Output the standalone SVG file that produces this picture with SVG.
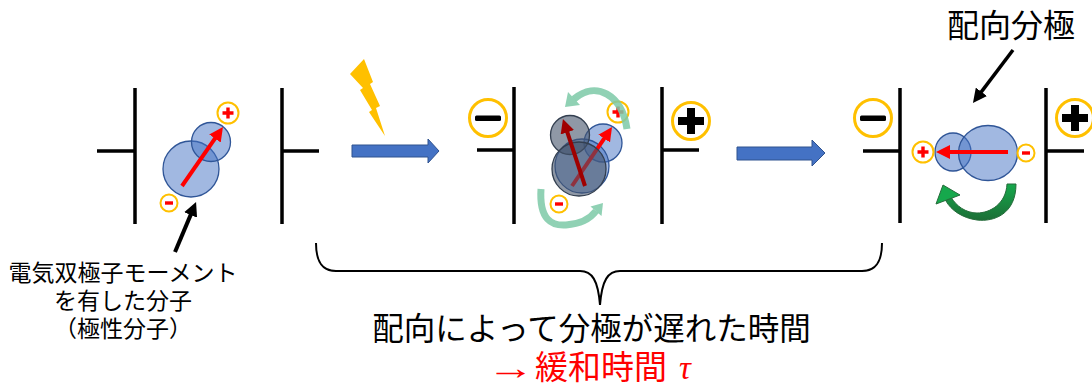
<svg xmlns="http://www.w3.org/2000/svg" width="1092" height="385" viewBox="0 0 1092 385">
  <style>
    .plate { stroke: #000; stroke-width: 3.5; fill: none; }
    .mol { fill: #4472c4; fill-opacity: 0.5; stroke: #2f5597; stroke-width: 1.3; }
    .mol-dark { fill: #44546a; fill-opacity: 0.6; stroke: #333f50; stroke-width: 1.3; }
    .ring { fill: #fff; stroke: #ffc000; stroke-width: 2; }
    .ring-big { fill: #fff; stroke: #ffc000; stroke-width: 3; }
    .sign { fill: #f00; }
    .sign-big { fill: #000; }
    .dipole { stroke: #f00; stroke-width: 4; fill: none; marker-end: url(#head-red); }
    .dipole-dark { stroke: #a00000; stroke-width: 4; fill: none; marker-end: url(#head-darkred); }
    .pointer { stroke: #000; stroke-width: 4; fill: none; marker-end: url(#head-black); }
    .block { fill: #4472c4; stroke: #2f528f; stroke-width: 1; }
    .spin { stroke: #7cc9a7; stroke-opacity: 0.85; stroke-width: 7; fill: none; }
    .spin-head { fill: #7cc9a7; fill-opacity: 0.85; }
    .jp { font-family: "Liberation Serif", "Noto Sans CJK JP", serif; fill: #000; }
    .red { fill: #f00; }
  </style>
  <defs>
    <marker id="head-red" markerUnits="userSpaceOnUse" markerWidth="14" markerHeight="14" viewBox="0 0 14 14" refX="2" refY="7" orient="auto">
      <path d="M0,0 L14,7 L0,14 z" fill="#f00"/>
    </marker>
    <marker id="head-darkred" markerUnits="userSpaceOnUse" markerWidth="14" markerHeight="14" viewBox="0 0 14 14" refX="2" refY="7" orient="auto">
      <path d="M0,0 L14,7 L0,14 z" fill="#a00000"/>
    </marker>
    <marker id="head-black" markerUnits="userSpaceOnUse" markerWidth="14" markerHeight="14" viewBox="0 0 14 14" refX="2" refY="7" orient="auto">
      <path d="M0,0 L14,7 L0,14 z" fill="#000"/>
    </marker>
    <linearGradient id="green-turn" x1="0" y1="0" x2="0" y2="1">
      <stop offset="0" stop-color="#16a84c"/>
      <stop offset="1" stop-color="#1c6e36"/>
    </linearGradient>
  </defs>

  <!-- Cell 1: no field, randomly oriented polar molecule -->
  <g id="cell-initial">
    <path class="plate" d="M135 88 V224 M97 151 H135"/>
    <path class="plate" d="M282 88 V224 M282 151 H319"/>
    <circle class="mol" cx="191" cy="169" r="28"/>
    <circle class="mol" cx="211" cy="142" r="19.5"/>
    <path class="dipole" d="M182 186 L216.1 136.9"/>
    <circle class="ring" cx="228" cy="113" r="10.5"/>
    <path class="sign" d="M226.3 107.5 h3.4 v3.8 h3.8 v3.4 h-3.8 v3.8 h-3.4 v-3.8 h-3.8 v-3.4 h3.8 z"/>
    <circle class="ring" cx="169" cy="203" r="8.5"/>
    <rect class="sign" x="165" y="201.3" width="8" height="3.4"/>
  </g>

  <!-- Field switched on -->
  <g id="field-pulse">
    <polygon points="350,74 364,59 373,82 370,84 380,106 376,108 385,136 369,112 372,110 360,90 363,88" fill="#ffc000"/>
  </g>

  <!-- Cell 2: molecule turning after the field is applied -->
  <g id="cell-rotating">
    <path class="plate" d="M514 87 V224 M477 150 H514"/>
    <path class="plate" d="M662 87 V224 M662 150 H699"/>
    <circle class="ring-big" cx="488" cy="118" r="18.5"/>
    <rect class="sign-big" x="475" y="115.5" width="26" height="5.5" rx="1.5"/>
    <circle class="ring-big" cx="691" cy="121" r="18.5"/>
    <path class="sign-big" d="M687 108 h8 v9 h9 v8 h-9 v9 h-8 v-9 h-9 v-8 h9 z"/>
    <circle class="mol" cx="603" cy="143" r="19"/>
    <circle class="mol" cx="582" cy="166" r="27"/>
    <path class="dipole" d="M572 186 L605.3 136.9"/>
    <circle class="mol-dark" cx="570" cy="135" r="19.5"/>
    <circle class="mol-dark" cx="579" cy="169" r="27"/>
    <path class="dipole-dark" d="M585 186 L566.7 130.4"/>
    <circle class="ring" cx="618" cy="112" r="10.5"/>
    <path class="sign" d="M616.3 106.5 h3.4 v3.8 h3.8 v3.4 h-3.8 v3.8 h-3.4 v-3.8 h-3.8 v-3.4 h3.8 z"/>
    <circle class="ring" cx="559" cy="204" r="8.5"/>
    <rect class="sign" x="555" y="202.3" width="8" height="3.4"/>
    <path class="spin" d="M627 129 C622 95 596 80 574 99"/>
    <polygon class="spin-head" points="565,107 568,92 580,105"/>
    <path class="spin" d="M541 189 C539 220 552 226 566 225 C580 224 590 219 596 211"/>
    <polygon class="spin-head" points="603,203 590.5,206.5 601.5,216"/>
  </g>

  <!-- Cell 3: molecule aligned with the field -->
  <g id="cell-oriented">
    <path class="plate" d="M900 88 V223 M863 151 H900"/>
    <path class="plate" d="M1046 88 V223 M1046 151 H1084"/>
    <circle class="ring-big" cx="873" cy="118" r="18.5"/>
    <rect class="sign-big" x="860" y="115.5" width="26" height="5.5" rx="1.5"/>
    <circle class="ring-big" cx="1075" cy="118" r="18.5"/>
    <path class="sign-big" d="M1071 105 h8 v9 h9 v8 h-9 v9 h-8 v-9 h-9 v-8 h9 z"/>
    <ellipse class="mol" cx="953" cy="152" rx="18" ry="19"/>
    <ellipse class="mol" cx="988" cy="153" rx="29.5" ry="27.5"/>
    <path class="dipole" d="M1008 152 L948 152"/>
    <circle class="ring" cx="923" cy="152" r="10.5"/>
    <path class="sign" d="M921.3 146.5 h3.4 v3.8 h3.8 v3.4 h-3.8 v3.8 h-3.4 v-3.8 h-3.8 v-3.4 h3.8 z"/>
    <circle class="ring" cx="1026" cy="153" r="8.5"/>
    <rect class="sign" x="1022" y="151.3" width="8" height="3.4"/>
    <path d="M1016 184 C1016 214 994 222 977 220 C962 218 951 210 946 201 L951 197 C956 206 966 213 977 213 C990 213 1006 204 1007 184 Z" fill="url(#green-turn)" stroke="#256b3a" stroke-width="1"/>
    <polygon points="936,204 943,185 960,195" fill="#16a84c" stroke="#256b3a" stroke-width="1"/>
  </g>

  <!-- Pointers, step arrows and the brace -->
  <g id="connectors">
    <path class="pointer" d="M175 252 L191.4 213.1"/>
    <path class="pointer" d="M1013 50 L980.2 93.4" style="stroke-width:3.5"/>
    <polygon class="block" points="352,145 428,145 428,139 439,151 428,163 428,157 352,157"/>
    <polygon class="block" points="737,147 812,147 812,140 825,153 812,166 812,160 737,160"/>
    <path d="M316 243 C316 262 322 271 336 271 L580 271 C592 271 598 280 600 305 C602 280 608 271 620 271 L862 271 C876 271 882 262 882 243" fill="none" stroke="#000" stroke-width="2"/>
  </g>

  <!-- Labels -->
  <g id="labels">
    <text class="jp" x="947" y="37" font-size="32">配向分極</text>
    <text class="jp" x="123" y="281" font-size="23" text-anchor="middle">電気双極子モーメント</text>
    <text class="jp" x="123" y="309" font-size="23" text-anchor="middle">を有した分子</text>
    <text class="jp" x="123" y="337" font-size="23" text-anchor="middle">（極性分子）</text>
    <text class="jp" x="591.5" y="340" font-size="31.5" text-anchor="middle">配向によって分極が遅れた時間</text>
    <text class="jp red" transform="translate(487 379) scale(1.45 1)" font-size="33">→</text>
    <text class="jp red" y="379" font-size="33"><tspan x="535">緩和時間</tspan><tspan x="679" font-style="italic">τ</tspan></text>
  </g>
</svg>
